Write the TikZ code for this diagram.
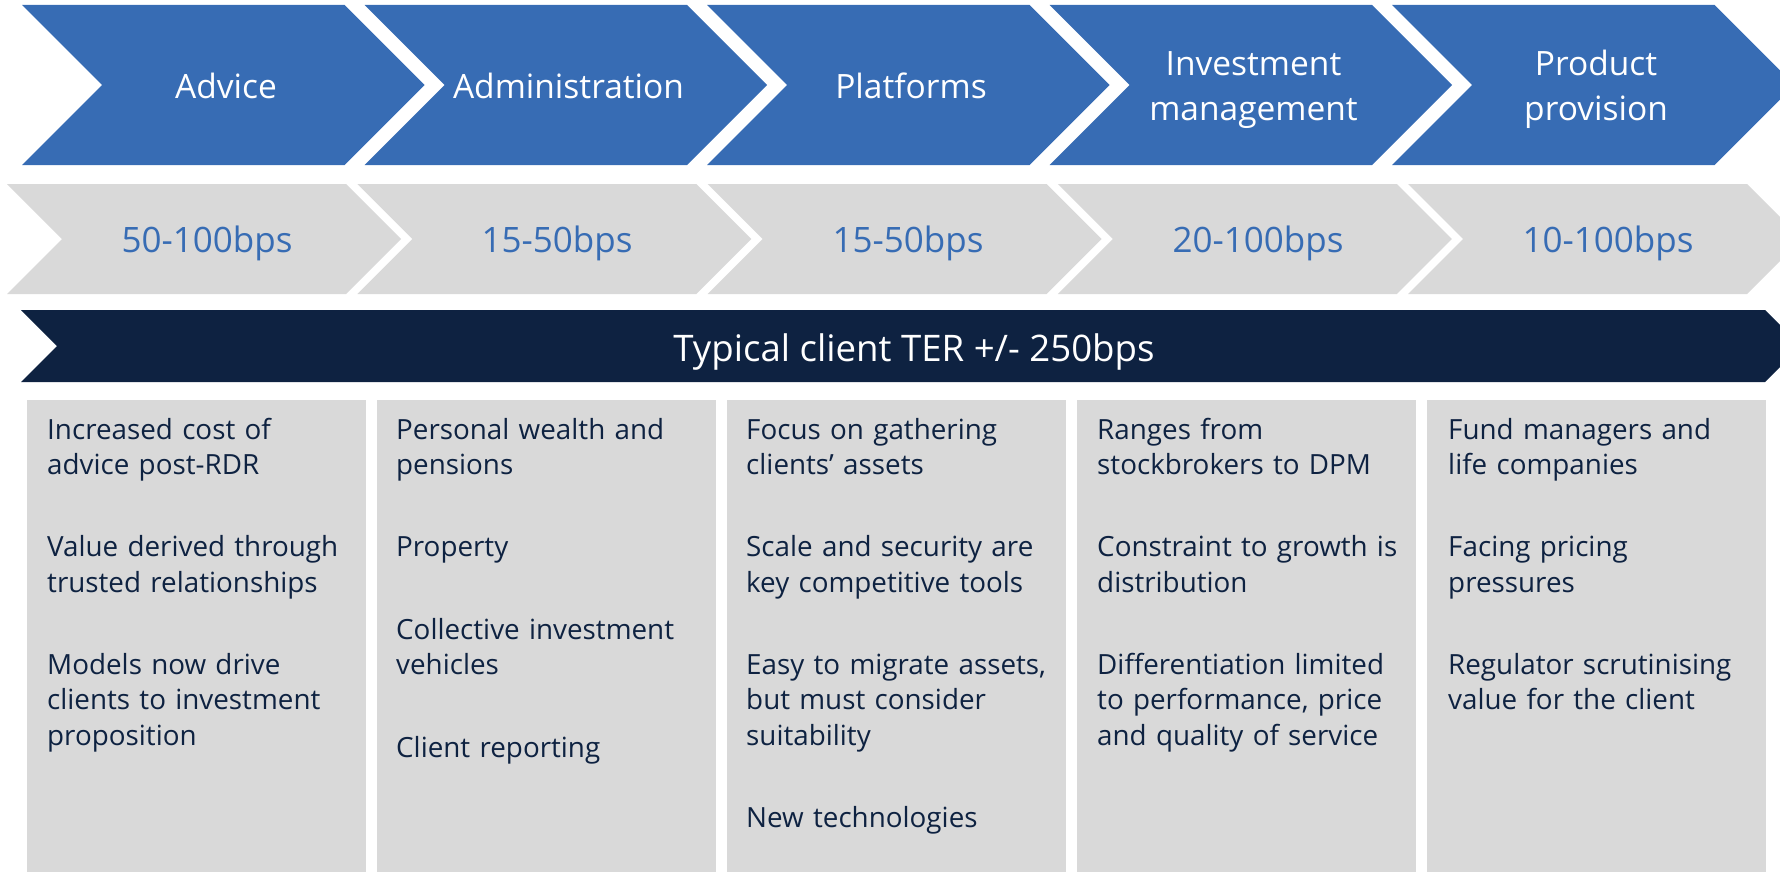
\documentclass[tikz,border=0pt]{standalone}
\usepackage{fontspec}
\setmainfont{Open Sans}
\definecolor{chevblue}{RGB}{55,108,180}
\definecolor{lightgray}{RGB}{217,217,217}
\definecolor{navy}{RGB}{14,34,65}
\begin{document}
\begin{tikzpicture}[x=1pt,y=-1pt,
  headtext/.style={text=white,font=\fontsize{33.5}{44.7}\selectfont,text width=300pt,align=center,anchor=base,inner sep=0pt},
  bpstext/.style={text=chevblue,font=\fontsize{35}{42}\selectfont,anchor=base,inner sep=0pt},
  bodytext/.style={text=navy,font=\fontsize{27.8}{35.3}\selectfont,text width=322pt,align=left,anchor=base west,inner sep=0pt}]
\useasboundingbox (0,0) rectangle (1780,872);
\clip (0,0) rectangle (1780,872);
% top chevrons
\foreach \i in {0,...,4}{
  \pgfmathsetmacro{\L}{22+342.5*\i}
  \fill[chevblue] (\L,5) -- (\L+322.5,5) -- (\L+402.5,85) -- (\L+322.5,165) -- (\L,165) -- (\L+80,85) -- cycle;
}
% gray chevrons
\foreach \i in {0,...,4}{
  \pgfmathsetmacro{\L}{7+350.25*\i}
  \fill[lightgray] (\L,184) -- (\L+339,184) -- (\L+394,239) -- (\L+339,294) -- (\L,294) -- (\L+55,239) -- cycle;
}
% navy bar
\fill[navy] (21,310) -- (1765,310) -- (1801,346) -- (1765,382) -- (21,382) -- (57,346) -- cycle;
% boxes
\foreach \i in {0,...,4}{
  \pgfmathsetmacro{\L}{27+350*\i}
  \fill[lightgray] (\L,400) rectangle (\L+339,880);
}
% header texts
\node[headtext] (h1) at (226,99) {Advice};
\node[headtext] (h2) at (568.5,99) {Administration};
\node[headtext] (h3) at (911,99) {Platforms};
\node[headtext] (h4) at (1253.5,76) {Investment\\management};
\node[headtext] (h5) at (1596,76) {Product\\provision};
% bps texts
\node[bpstext] (b1) at (207,252) {50-100bps};
\node[bpstext] (b2) at (557,252) {15-50bps};
\node[bpstext] (b3) at (908,252) {15-50bps};
\node[bpstext] (b4) at (1258,252) {20-100bps};
\node[bpstext] (b5) at (1608,252) {10-100bps};
% navy bar text
\node[text=white,font=\fontsize{36.6}{40}\selectfont,anchor=base,inner sep=0pt] (ter) at (914,361) {Typical client TER +/- 250bps};
% box texts
\node[bodytext] (t1) at (47,439) {Increased cost of\\advice post-RDR\\[47.2pt]Value derived through\\trusted relationships\\[47.2pt]Models now drive\\clients to investment\\proposition};
\node[bodytext] (t2) at (396,439) {Personal wealth and\\pensions\\[47.2pt]Property\\[47.2pt]Collective investment\\vehicles\\[47.2pt]Client reporting};
\node[bodytext] (t3) at (746,439) {Focus on gathering\\clients’ assets\\[47.2pt]Scale and security are\\key competitive tools\\[47.2pt]Easy to migrate assets,\\but must consider\\suitability\\[47.2pt]New technologies};
\node[bodytext] (t4) at (1097,439) {Ranges from\\stockbrokers to DPM\\[47.2pt]Constraint to growth is\\distribution\\[47.2pt]Differentiation limited\\to performance, price\\and quality of service};
\node[bodytext] (t5) at (1448,439) {Fund managers and\\life companies\\[47.2pt]Facing pricing\\pressures\\[47.2pt]Regulator scrutinising\\value for the client};
\end{tikzpicture}
\end{document}
